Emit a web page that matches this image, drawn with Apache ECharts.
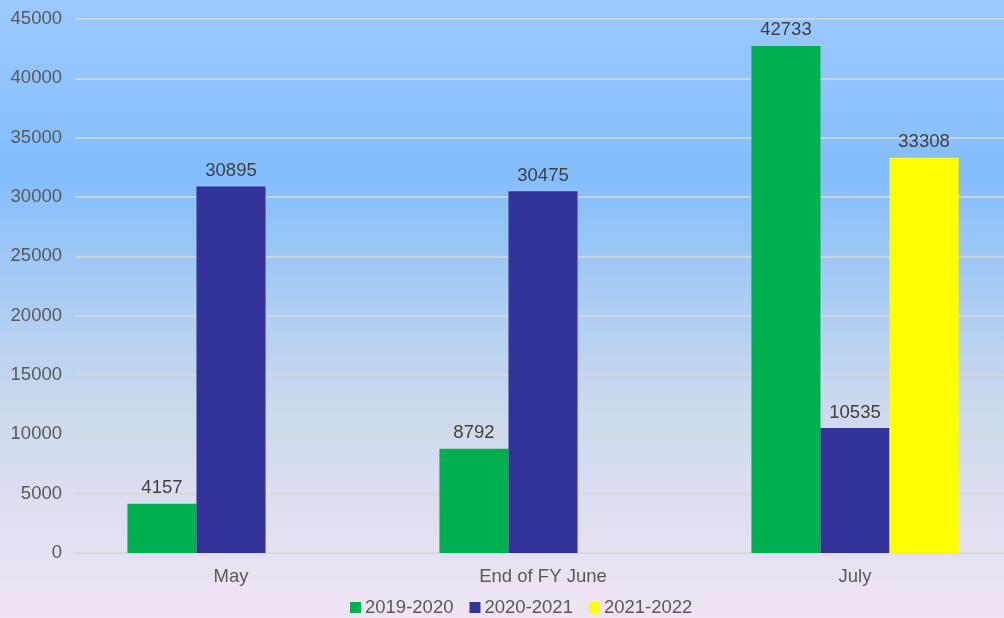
<!DOCTYPE html>
<html>
<head>
<meta charset="utf-8">
<script src="https://cdn.jsdelivr.net/npm/echarts@6/dist/echarts.min.js"></script>
<style>
html,body{margin:0;padding:0;overflow:hidden;width:1004px;height:618px;background:#f1e4f4;}
#c{width:1012px;height:618px;}
</style>
</head>
<body>
<div id="c"></div>
<script>
const categories = ['May', 'End of FY June', 'July'];
const seriesNames = ['2019-2020', '2020-2021', '2021-2022'];
const s2019 = [4157, 8792, 42733];
const s2020 = [30895, 30475, 10535];
const s2021 = [null, null, 33308];
const colors = ['#00b050', '#333399', '#ffff00'];

const chart = echarts.init(document.getElementById('c'));
const font = 'Arial, "Liberation Sans", sans-serif';
const mk = (name, data, color) => ({
  name, type: 'bar', data, barGap: '0%', barCategoryGap: '33.6%',
  itemStyle: { color },
  label: { show: true, position: 'top', distance: 6, color: '#404040', fontSize: 18.5, fontFamily: font }
});
chart.setOption({
  backgroundColor: {
    type: 'linear', x: 0, y: 0, x2: 0, y2: 1,
    colorStops: [
      { offset: 0, color: '#9ccaff' },
      { offset: 0.28, color: '#83bdfc' },
      { offset: 0.65, color: '#cbd9ed' },
      { offset: 1, color: '#f1e4f4' }
    ]
  },
  animation: false,
  grid: { left: 75, top: 19, width: 936, height: 534, containLabel: false },
  legend: {
    bottom: -4, left: 345, itemWidth: 11, itemHeight: 11, itemGap: 16,
    icon: 'rect',
    textStyle: { color: '#595959', fontSize: 18.5, fontFamily: font, padding: [0, 0, 0, -1] },
    data: seriesNames
  },
  xAxis: {
    type: 'category', data: categories,
    axisLine: { lineStyle: { color: '#d9d9d9', width: 1.5 } },
    axisTick: { show: false },
    axisLabel: { color: '#595959', fontSize: 18.5, fontFamily: font, margin: 14 }
  },
  yAxis: {
    type: 'value', min: 0, max: 45000, interval: 5000,
    axisLine: { show: false }, axisTick: { show: false },
    splitLine: { lineStyle: { color: '#d9d9d9', width: 1.5 } },
    axisLabel: { color: '#595959', fontSize: 18.5, fontFamily: font, margin: 13, formatter: v => String(v) }
  },
  series: [
    mk(seriesNames[0], s2019, colors[0]),
    mk(seriesNames[1], s2020, colors[1]),
    mk(seriesNames[2], s2021, colors[2])
  ]
});
</script>
</body>
</html>
